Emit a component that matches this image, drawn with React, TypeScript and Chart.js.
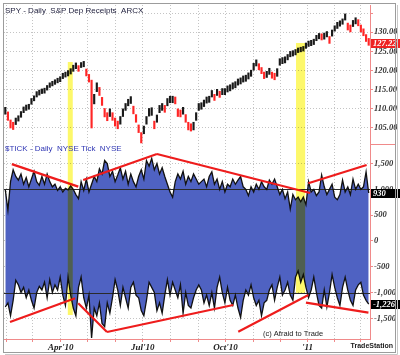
import React, { useEffect, useRef } from 'react';
import { Chart, registerables } from 'chart.js';
Chart.register(...registerables);

// SPY bars (2 trading days per bar), Feb 2010 .. mid-Mar 2011
const spyLow = [
  108.6, 107.0, 105.0, 104.6, 105.9, 106.8, 107.8, 109.0, 109.6, 109.9,
  111.2, 112.1, 113.1, 113.6, 114.0, 114.1, 114.9, 115.6, 116.0, 116.4,
  116.8, 117.1, 117.9, 118.3, 118.6, 119.1, 119.8, 120.5, 119.8, 120.8,
  121.0, 118.6, 117.0, 105.0, 111.3, 114.5, 113.5, 110.9, 107.9, 106.9,
  108.0, 107.0, 105.5, 104.8, 106.0, 108.0, 109.6, 110.8, 111.4, 108.7,
  106.5, 103.8, 101.1, 103.5, 106.0, 108.1, 108.3, 104.8, 106.5, 109.0,
  109.6, 109.1, 110.8, 111.6, 111.6, 111.3, 108.0, 107.9, 108.6, 106.5,
  104.5, 104.2, 104.5, 107.0, 109.6, 109.9, 110.6, 111.5, 111.7, 113.1,
  112.2, 113.5, 113.0, 113.7, 113.7, 114.4, 114.7, 115.2, 115.5, 116.2,
  116.5, 117.0, 117.2, 117.8, 118.5, 120.1, 121.2, 120.2, 119.2, 117.9,
  118.2, 119.0, 118.0, 117.6, 118.5, 121.4, 121.8, 122.0, 122.8, 123.6,
  123.8, 124.1, 124.7, 124.9, 125.1, 125.8, 126.3, 126.5, 126.8, 127.8,
  128.3, 128.0, 128.2, 128.8, 127.1, 129.0, 130.3, 131.0, 131.6, 132.1,
  133.2, 130.6, 130.1, 131.5, 132.2, 131.7, 130.1, 129.1, 127.6, 126.6,
];
const spyHigh = [
  110.4, 109.2, 107.1, 106.5, 107.6, 108.2, 109.3, 110.5, 111.0, 111.2,
  112.7, 113.4, 114.5, 114.9, 115.2, 115.4, 116.1, 116.8, 117.2, 117.6,
  118.0, 118.4, 119.3, 119.6, 120.0, 120.5, 121.4, 122.0, 121.3, 122.1,
  122.4, 120.4, 119.0, 117.5, 113.8, 116.8, 115.6, 113.0, 110.1, 109.0,
  110.0, 109.0, 107.6, 106.8, 108.0, 110.0, 111.4, 112.5, 113.2, 110.7,
  108.5, 105.8, 103.8, 105.5, 108.0, 110.1, 110.3, 106.8, 108.4, 110.9,
  111.4, 110.9, 112.7, 113.3, 113.3, 113.1, 110.0, 109.7, 110.4, 108.5,
  106.5, 106.1, 106.5, 109.0, 111.4, 111.6, 112.3, 113.1, 113.3, 114.8,
  113.8, 115.1, 114.6, 115.3, 115.3, 116.0, 116.3, 116.8, 117.1, 117.8,
  118.1, 118.6, 118.8, 119.4, 120.1, 121.9, 122.8, 121.8, 120.8, 119.6,
  119.8, 120.6, 119.6, 119.3, 120.5, 123.1, 123.4, 123.6, 124.2, 125.0,
  125.2, 125.5, 125.9, 126.1, 126.3, 127.2, 127.7, 127.9, 128.2, 129.2,
  129.7, 129.6, 129.8, 130.2, 128.9, 130.6, 131.7, 132.6, 133.0, 133.5,
  134.8, 132.4, 131.9, 133.1, 133.8, 133.3, 131.9, 130.9, 129.4, 128.4,
];
const lastClose = 127.22;

// $TICK daily high / low
const tickHigh = [
  990, 600, 1150, 1380, 1250, 1180, 1300, 1100, 1230, 1050,
  1200, 1350, 1150, 1080, 1250, 1100, 1300, 1150, 1050, 1100,
  980, 1050, 950, 1020, 990, 1070, 1000, 900, 820, 1150,
  980, 1200, 950, 1100, 1250, 1150, 1400, 1300, 1560, 1500,
  1250, 1350, 1150, 1280, 1420, 1200, 1350, 1100, 1300, 1150,
  1050, 1250, 1380, 1200, 1560, 1450, 1600, 1380, 1500, 1300,
  1420, 1250, 1100, 950, 850, 1150, 1300, 1200, 1350, 1100,
  1250, 1150, 1300, 1200, 1100, 1150, 1200, 1050, 1250, 1340,
  1100, 1200, 1000, 1150, 950, 1100, 1050, 1200, 1100, 1180,
  1250, 1050, 1000, 880, 1050, 950, 1100, 1000, 1150, 1050,
  1000, 1180, 1100, 1200, 1050, 900, 1000, 820, 950, 620,
  900, 800, 850, 760, 850, 700, 1150, 950, 1000, 880,
  950, 1280, 1050, 900, 1000, 1100, 850, 800, 900, 1180,
  950, 1050, 900, 1200, 1000, 1100, 1000, 1050, 1340, 930,
];
const tickLow = [
  -1280, -1200, -1450, -1150, -760, -850, -1000, -900, -1100, -950,
  -1150, -1300, -1000, -880, -950, -800, -1100, -750, -1000, -850,
  -950, -700, -1050, -1250, -700, -1050, -1300, -1450, -900, -700,
  -1100, -1300, -1050, -1880, -1300, -1450, -1200, -1600, -1660, -1200,
  -1400, -1100, -750, -950, -1250, -900, -1100, -1300, -900, -800,
  -1050, -1100, -1350, -1450, -1150, -800, -900, -1000, -1350, -1200,
  -1400, -1050, -750, -1050, -800, -950, -1100, -850, -1400, -1000,
  -1250, -1300, -1100, -950, -850, -950, -1200, -1050, -1250, -1000,
  -1300, -900, -700, -1000, -1200, -900, -1150, -1250, -1050, -1300,
  -1480, -1150, -950, -1050, -850, -1100, -1250, -1150, -1450, -1200,
  -1150, -950, -850, -1150, -900, -700, -1050, -950, -800, -1050,
  -1150, -700, -580, -800, -650, -900, -1100, -950, -700, -1000,
  -1250, -1300, -950, -1280, -1000, -650, -900, -1100, -1250, -900,
  -700, -950, -1150, -1250, -950, -850, -800, -1050, -1150, -1226,
];

// x axis (bar index) month ticks
const monthTickPos = [0.3, 10.3, 21.2, 31.6, 42.0, 52.6, 63.0, 73.8, 84.2, 94.9, 105.2, 115.6, 125.8, 135.8];
const monthTickLabels = ['', '', "Apr'10", '', '', "Jul'10", '', '', "Oct'10", '', '', "'11", '', ''];

const priceTicks = [105, 110, 115, 120, 125, 130, 135];
const priceTickLabels = ['105.00', '110.00', '115.00', '120.00', '125.00', '130.00', ''];
const tickAxisTicks = [-1500, -1000, -500, 0, 500, 1000, 1500];
const tickAxisLabels = ['-1,500', '-1,000', '-500', '0', '500', '1,000', '1,500'];

// red trend lines on $TICK
const trendStartX = [2.5, 29.8, 58.0, 115.9, 1.8, 27.9, 38.9, 89.1, 115.0];
const trendStartY = [1490, 1183, 1687, 1119, -1571, -1208, -1765, -1759, -1196];
const trendEndX = [27.9, 58.0, 116.6, 138.2, 26.7, 38.9, 87.2, 115.9, 138.9];
const trendEndY = [1053, 1687, 931, 1474, -1111, -1765, -1241, -1047, -1390];

// yellow highlight bands
const bandStart = [23.9, 111.2];
const bandEnd = [25.8, 114.7];
const bandTopPrice = [122.24, 127.2];
const bandBottomTick = [-1435, -1008];

const N = spyLow.length;
const SERIF = "'Liberation Serif', 'DejaVu Serif', serif";
const SANS = "'Liberation Sans', Arial, sans-serif";
const PINK = '#f08a8a';

export default function App() {
  const ref = useRef<HTMLCanvasElement>(null);
  useEffect(() => {
    const labels = Array.from({ length: N }, (_, i) => i);
    const barColors = spyLow.map((lo, i) => {
      if (i === 0) return '#1a1a1a';
      const m = (lo + spyHigh[i]) / 2;
      const pm = (spyLow[i - 1] + spyHigh[i - 1]) / 2;
      return m < pm ? '#ff2626' : '#1a1a1a';
    });
    const trendSets = trendStartX.map((sx, k) => ({
      type: 'line' as const,
      data: [{ x: sx, y: trendStartY[k] }, { x: trendEndX[k], y: trendEndY[k] }],
      borderColor: '#ee1c1c',
      borderWidth: 2.2,
      pointRadius: 0,
      fill: false,
      yAxisID: 'yT',
      xAxisID: 'x',
    }));

    const deco = {
      id: 'deco',
      beforeDatasetsDraw(chart: any) {
        const { ctx, chartArea, scales } = chart;
        const yT = scales.yT;
        ctx.save();
        ctx.strokeStyle = '#2a2a2a';
        ctx.lineWidth = 1;
        [1000, -1000].forEach((v) => {
          const y = Math.round(yT.getPixelForValue(v)) + 0.5;
          ctx.beginPath();
          ctx.moveTo(chartArea.left, y);
          ctx.lineTo(chartArea.right, y);
          ctx.stroke();
        });
        ctx.restore();
      },
      afterDatasetsDraw(chart: any) {
        const { ctx, scales } = chart;
        const { x, yP, yT } = scales;
        ctx.save();
        ctx.globalCompositeOperation = 'multiply';
        ctx.fillStyle = '#fdf86a';
        bandStart.forEach((s, k) => {
          const x0 = x.getPixelForValue(s);
          const x1 = x.getPixelForValue(bandEnd[k]);
          const y0 = yP.getPixelForValue(bandTopPrice[k]);
          const y1 = yT.getPixelForValue(bandBottomTick[k]);
          ctx.fillRect(x0, y0, x1 - x0, y1 - y0);
        });
        ctx.restore();
      },
      afterDraw(chart: any) {
        const { ctx, chartArea, scales } = chart;
        const { yP, yT } = scales;
        ctx.save();
        ctx.strokeStyle = PINK;
        ctx.lineWidth = 1;
        ctx.beginPath();
        ctx.moveTo(chartArea.right, Math.round(yP.bottom) + 0.5);
        ctx.lineTo(396, Math.round(yP.bottom) + 0.5);
        ctx.stroke();
        ctx.textBaseline = 'middle';
        ctx.textAlign = 'left';
        ctx.font = `8px ${SANS}`;
        ctx.fillStyle = '#1c1c3a';
        ctx.fillText('SPY - Daily  S&P Dep Receipts  ARCX', 5, 10.5);
        ctx.fillStyle = '#2f36b4';
        ctx.fillText('$TICK - Daily  NYSE Tick  NYSE', 5, yT.top + 4.5);
        const box = (y: number, txt: string, bg: string) => {
          ctx.fillStyle = bg;
          ctx.fillRect(chartArea.right + 1, Math.round(y) - 4, 30, 9);
          ctx.fillStyle = '#ffffff';
          ctx.font = `italic bold 8.5px ${SERIF}`;
          ctx.fillText(txt, chartArea.right + 3, Math.round(y) + 0.5);
        };
        box(yP.getPixelForValue(lastClose), lastClose.toFixed(2), '#ee2222');
        box(yT.getPixelForValue(tickHigh[N - 1]), String(tickHigh[N - 1]), '#000000');
        box(yT.getPixelForValue(tickLow[N - 1]), '-' + Math.abs(tickLow[N - 1]).toLocaleString('en-US'), '#000000');
        ctx.fillStyle = '#1a1a1a';
        ctx.font = `7.5px ${SANS}`;
        ctx.fillText('(c) Afraid to Trade', 263, 333.5);
        ctx.font = `bold 7px ${SANS}`;
        ctx.textAlign = 'right';
        ctx.fillText('TradeStation', 393, 346.5);
        ctx.textAlign = 'left';
        ctx.strokeStyle = '#9c9c9c';
        ctx.lineWidth = 1;
        ctx.strokeRect(3.5, 3.5, 392, 349);
        ctx.strokeStyle = '#c8c8c8';
        ctx.beginPath();
        ctx.moveTo(397.5, 5);
        ctx.lineTo(397.5, 354.5);
        ctx.moveTo(5, 354.5);
        ctx.lineTo(397.5, 354.5);
        ctx.stroke();
        ctx.restore();
      },
    };

    const yTickFont = { family: SERIF, size: 8.5, style: 'italic', weight: 'bold' };

    const chart = new Chart(ref.current as HTMLCanvasElement, {
      type: 'bar',
      data: {
        labels,
        datasets: [
          ...trendSets,
          {
            type: 'bar' as const,
            data: spyLow.map((lo, i) => [lo, spyHigh[i]]),
            backgroundColor: barColors,
            barThickness: 1.5,
            yAxisID: 'yP',
            xAxisID: 'x',
          },
          {
            type: 'line' as const,
            data: tickHigh,
            borderColor: '#111111',
            borderWidth: 1.3,
            pointRadius: 0,
            fill: '+1',
            backgroundColor: '#4f62c2',
            yAxisID: 'yT',
            xAxisID: 'x',
          },
          {
            type: 'line' as const,
            data: tickLow,
            borderColor: '#111111',
            borderWidth: 1.3,
            pointRadius: 0,
            fill: false,
            yAxisID: 'yT',
            xAxisID: 'x',
          },
        ] as any,
      },
      options: {
        responsive: false,
        animation: false,
        devicePixelRatio: 1,
        layout: { padding: { top: 5, left: 4, right: 0, bottom: 0 } },
        plugins: {
          legend: { display: false },
          tooltip: { enabled: false },
          filler: { drawTime: 'beforeDatasetsDraw' },
        } as any,
        scales: {
          x: {
            type: 'linear',
            position: 'bottom',
            min: -0.5,
            max: N - 0.5,
            offset: false,
            afterBuildTicks: (s: any) => {
              s.ticks = monthTickPos.map((v) => ({ value: v }));
            },
            afterFit: (s: any) => {
              s.height = 16;
              s.paddingLeft = 0;
              s.paddingRight = 0;
            },
            ticks: {
              autoSkip: false,
              maxRotation: 0,
              padding: 0,
              color: '#222222',
              font: { family: SERIF, size: 9, style: 'italic', weight: 'bold' },
              callback: (_v: any, i: number) => monthTickLabels[i],
            },
            grid: { offset: false, color: '#c4c4c4', tickColor: PINK, tickLength: 3 },
            border: { color: PINK, dash: [1, 2] },
          } as any,
          yP: {
            type: 'linear',
            position: 'right',
            stack: 'right',
            stackWeight: 139,
            min: 100.82,
            max: 137.13,
            afterBuildTicks: (s: any) => {
              s.ticks = priceTicks.map((v) => ({ value: v }));
            },
            afterFit: (s: any) => {
              s.width = 30;
              s.paddingTop = 0;
              s.paddingBottom = 0;
            },
            ticks: {
              autoSkip: false,
              padding: 1,
              color: '#333333',
              font: yTickFont,
              callback: (_v: any, i: number) => priceTickLabels[i],
            },
            grid: { color: '#c4c4c4', tickColor: PINK, tickLength: 3 },
            border: { color: PINK, dash: [1, 2] },
          } as any,
          yT: {
            type: 'linear',
            position: 'right',
            stack: 'right',
            stackWeight: 195,
            min: -1900,
            max: 1880,
            afterBuildTicks: (s: any) => {
              s.ticks = tickAxisTicks.map((v) => ({ value: v }));
            },
            afterFit: (s: any) => {
              s.width = 30;
              s.paddingTop = 0;
              s.paddingBottom = 0;
            },
            ticks: {
              autoSkip: false,
              padding: 1,
              color: '#333333',
              font: yTickFont,
              callback: (_v: any, i: number) => tickAxisLabels[i],
            },
            grid: { color: '#c4c4c4', tickColor: PINK, tickLength: 3 },
            border: { color: PINK, dash: [1, 2] },
          } as any,
        },
      },
      plugins: [deco],
    } as any);
    return () => chart.destroy();
  }, []);

  return (
    <div style={{ position: 'fixed', left: 0, top: 0, width: 400, height: 355, background: '#ffffff' }}>
      <canvas ref={ref} width={400} height={355} style={{ display: 'block', width: 400, height: 355 }} />
    </div>
  );
}
